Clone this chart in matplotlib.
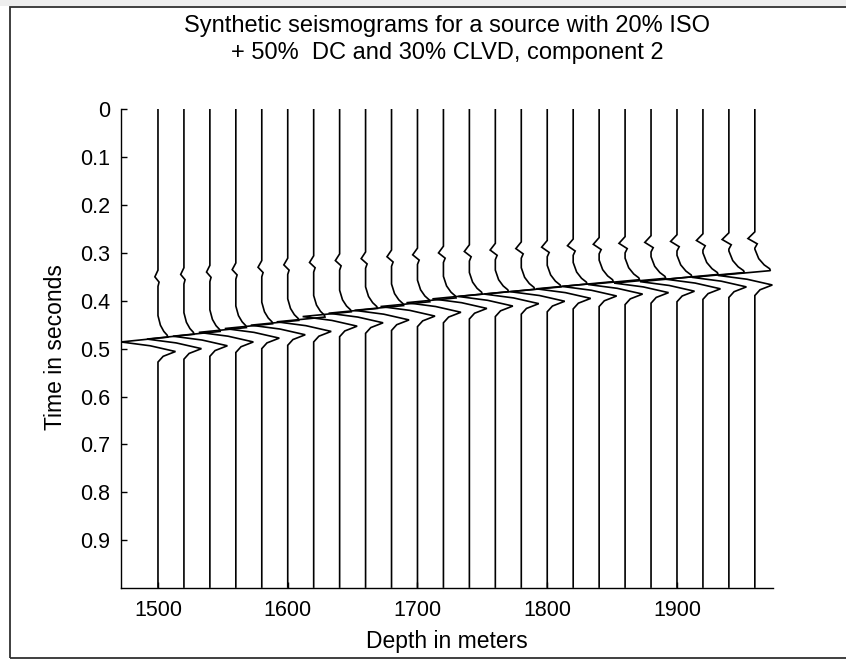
import numpy as np
import matplotlib
matplotlib.use("Agg")
import matplotlib.pyplot as plt
from matplotlib.patches import Rectangle

plt.rcParams['font.family'] = ['Liberation Sans', 'DejaVu Sans']

# ---------------- data ----------------
depths = [1500, 1520, 1540, 1560, 1580, 1600, 1620, 1640, 1660, 1680, 1700, 1720,
          1740, 1760, 1780, 1800, 1820, 1840, 1860, 1880, 1900, 1920, 1940, 1960]

# onset time of the strong arrival (start of the large left swing), seconds
t_big = [0.476, 0.470, 0.464, 0.456, 0.448, 0.441, 0.434, 0.423, 0.416, 0.410, 0.402, 0.394,
         0.386, 0.381, 0.376, 0.371, 0.365, 0.360, 0.356, 0.353, 0.350, 0.345, 0.341, 0.337]

# time of the small early wiggle, seconds
t_small = [0.350, 0.345, 0.340, 0.335, 0.330, 0.325, 0.320, 0.316, 0.312, 0.308, 0.304, 0.300,
           0.297, 0.294, 0.291, 0.288, 0.285, 0.282, 0.280, 0.278, 0.276, 0.274, 0.272, 0.270]

# amplitude of the small wiggle (m of deflection)
a_small = [2.4, 2.5, 2.6, 2.8, 2.9, 3.0, 3.2, 3.3, 3.4, 3.5, 3.7, 3.8,
           3.9, 4.0, 4.2, 4.3, 4.4, 4.5, 4.7, 4.8, 4.9, 5.0, 5.2, 5.3]

# amplitude of the lead-in bump before the large swing (m)
a_lead = [7.5, 7.7, 7.9, 8.1, 8.3, 8.5, 8.7, 8.9, 9.1, 9.3, 9.5, 9.7,
          9.9, 10.1, 10.3, 10.5, 10.7, 10.9, 11.1, 11.3, 11.5, 11.7, 11.9, 12.0]

# strong wavelet key points: (time after onset [s], deflection [m])
lead_dt = [-0.045, -0.025, -0.012, -0.004, 0.000]
lead_frac = [0.0, 0.25, 0.6, 0.95, 1.0]
main_dt = [0.010, 0.018, 0.030, 0.040, 0.052]
main_dx = [-28.5, -6.0, 13.5, 4.0, 0.0]

# small wiggle key points: (time after t_small, fraction of a_small)
small_dt = [-0.014, 0.000, 0.011, 0.020]
small_frac = [0.0, -1.0, 0.35, 0.0]

yticks = [0, 0.1, 0.2, 0.3, 0.4, 0.5, 0.6, 0.7, 0.8, 0.9]
ytick_labels = ['0', '0.1', '0.2', '0.3', '0.4', '0.5', '0.6', '0.7', '0.8', '0.9']
xticks = [1500, 1600, 1700, 1800, 1900]
xtick_labels = ['1500', '1600', '1700', '1800', '1900']

# ---------------- figure ----------------
W, H = 846, 660
fig = plt.figure(figsize=(W / 100, H / 100), dpi=100, facecolor='white')

# outer window frame as in the screenshot
fig.add_artist(Rectangle((0, 1 - 6 / H), 1, 6 / H, transform=fig.transFigure,
                         facecolor='#eeeeee', edgecolor='none'))
fig.add_artist(Rectangle((10 / W, 2.5 / H), 1.0, 1 - 9.5 / H, transform=fig.transFigure,
                         facecolor='none', edgecolor='#303030', linewidth=1.3))

ax = fig.add_axes([121 / W, 72 / H, (773 - 121) / W, 478.7 / H])

for d, tb, ts, asm, al in zip(depths, t_big, t_small, a_small, a_lead):
    xs = [d, d]
    ys = [0.0, ts + small_dt[0]]
    for dt, f in zip(small_dt[1:], small_frac[1:]):
        xs.append(d + f * asm)
        ys.append(ts + dt)
    for dt, f in zip(lead_dt, lead_frac):
        xs.append(d + f * al)
        ys.append(tb + dt)
    for dt, dx in zip(main_dt, main_dx):
        xs.append(d + dx)
        ys.append(tb + dt)
    xs.append(d)
    ys.append(0.998)
    ax.plot(xs, ys, color='black', linewidth=1.2, solid_joinstyle='miter')

ax.set_xlim(1471.5, 1974)
ax.set_ylim(1.0, 0.0)
ax.set_yticks(yticks)
ax.set_yticklabels(ytick_labels)
ax.set_xticks(xticks)
ax.set_xticklabels(xtick_labels)

for s in ['top', 'right']:
    ax.spines[s].set_visible(False)
for s in ['left', 'bottom']:
    ax.spines[s].set_linewidth(1.0)
    ax.spines[s].set_color('black')

ax.tick_params(axis='both', direction='in', length=4.3, width=1.0, labelsize=15.5)
ax.tick_params(axis='x', pad=9)
ax.tick_params(axis='y', pad=7.5)

cx = (121 + 773) / 2 / W
fig.text(cx, 1 - 32 / H, 'Synthetic seismograms for a source with 20% ISO',
         ha='center', va='baseline', fontsize=17)
fig.text(cx, 1 - 59 / H, '+ 50%  DC and 30% CLVD, component 2',
         ha='center', va='baseline', fontsize=17)
fig.text(cx, 1 - 648 / H, 'Depth in meters', ha='center', va='baseline', fontsize=16.5)
fig.text(55 / W, 1 - 347 / H, 'Time in seconds', ha='center', va='center',
         rotation=90, fontsize=16.5)

fig.savefig('out.png', dpi=100, facecolor='white')
